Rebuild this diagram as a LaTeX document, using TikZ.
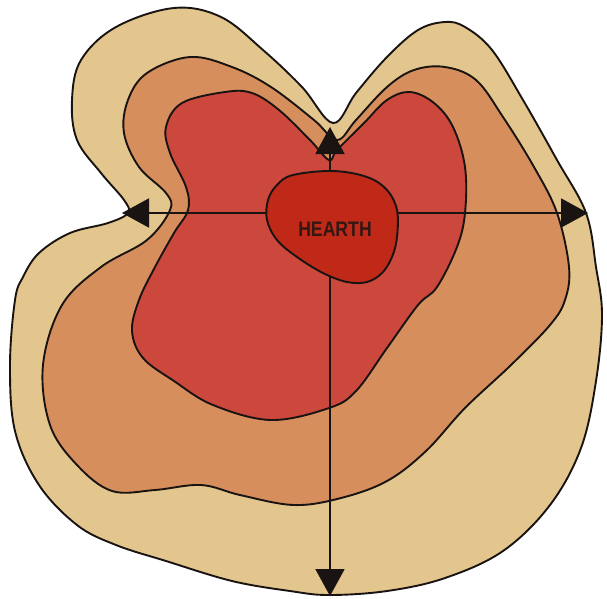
\documentclass[tikz,border=0pt]{standalone}
\usepackage{fontspec}
\setmainfont{Liberation Sans}
\usetikzlibrary{arrows.meta}
\definecolor{tanc}{RGB}{227,197,142}
\definecolor{orangec}{RGB}{214,142,92}
\definecolor{redc}{RGB}{204,72,60}
\definecolor{hearthc}{RGB}{192,40,24}
\definecolor{edgec}{RGB}{25,20,18}
\begin{document}
\begin{tikzpicture}[x=1pt,y=-1pt,
  zone/.style={draw=edgec,line width=1.9pt,line join=round},
  arr/.style={draw=edgec,line width=1.9pt,-{Triangle[length=27pt,width=29pt]}}]
\useasboundingbox[fill=white] (0,0) rectangle (607,598);
% outer zone
\path[zone,fill=tanc] plot[smooth cycle,tension=0.6] coordinates {
(174,8) (221,17) (263,50) (302,87) (333,123) (356,93) (387,57) (418,30) (445,22) (465,27) (492,50) (523,100) (557,160) (586,213) (596,267) (602,315) (596,381) (581,448) (550,505) (503,551) (445,578) (387,591) (329,595) (290,591) (232,581) (166,561) (116,545) (77,525) (39,485) (15,431) (10,365) (15,300) (23,277) (39,253) (70,233) (108,223) (128,213) (124,200) (101,173) (77,140) (72,100) (81,60) (116,27)};
% middle zone
\path[zone,fill=orangec] plot[smooth cycle,tension=0.6] coordinates {
(190,57) (232,67) (271,87) (314,120) (337,140) (356,120) (387,87) (414,70) (445,67) (476,80) (503,117) (534,167) (557,213) (569,267) (565,300) (550,325) (511,365) (465,408) (426,451) (387,481) (341,498) (294,505) (240,495) (201,485) (155,490) (112,491) (77,465) (50,425) (43,365) (62,305) (101,267) (147,240) (170,210) (166,193) (139,167) (124,133) (128,100) (147,73)};
% inner zone
\path[zone,fill=redc] plot[smooth cycle,tension=0.6] coordinates {
(225,92) (252,93) (279,110) (310,140) (329,160) (337,150) (364,123) (387,100) (410,92) (434,103) (453,127) (465,167) (465,213) (457,247) (437,287) (418,305) (387,348) (356,391) (329,408) (271,420) (213,405) (174,381) (143,358) (132,331) (139,300) (155,267) (174,233) (188,210) (186,187) (170,153) (166,127) (182,103)};
% arrows
\coordinate (hc) at (330,213);
\coordinate (tipT) at (330,127);
\coordinate (tipL) at (122,213);
\coordinate (tipR) at (588,213);
\coordinate (tipB) at (330,596);
\draw[arr] (hc) -- (tipT);
\draw[arr] (hc) -- (tipL);
\draw[arr] (hc) -- (tipR);
\draw[arr] (hc) -- (tipB);
% hearth
\path[zone,fill=hearthc] plot[smooth cycle,tension=0.6] coordinates {
(293,175) (333,171) (367,177) (387,190) (397,210) (397,237) (392,257) (382,273) (367,282) (347,282) (323,273) (297,257) (277,240) (267,220) (268,200) (277,185)};
\node[xscale=0.84,text=edgec!85!hearthc,font=\bfseries\fontsize{21}{21}\selectfont] (hearth) at (335,229) {HEARTH};
\end{tikzpicture}
\end{document}
